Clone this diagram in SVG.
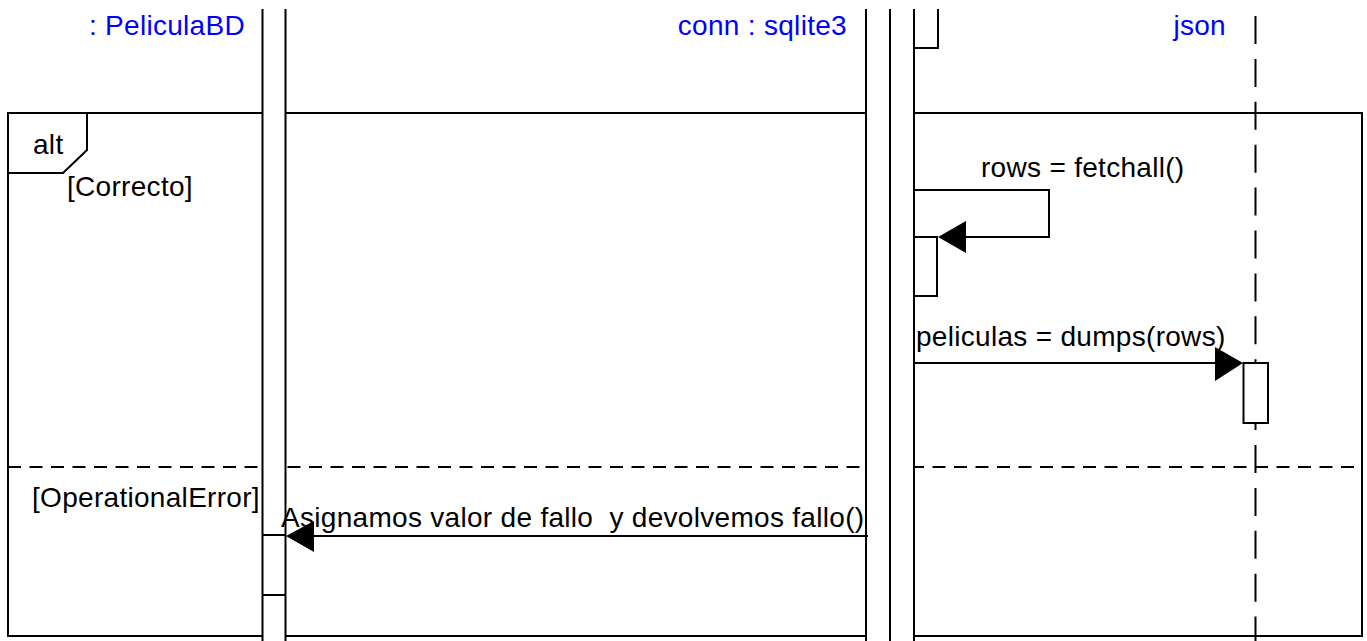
<svg xmlns="http://www.w3.org/2000/svg" width="1367" height="641" viewBox="0 0 1367 641">
  <style>
    .ln { stroke: #000; stroke-width: 2; fill: none; }
    .box { stroke: #000; stroke-width: 2; fill: #fff; }
    .cover { fill: #fff; stroke: none; }
    .t { font-family: "Liberation Sans", Arial, sans-serif; font-size: 28px; letter-spacing: 0.3px; fill: #000; white-space: pre; }
    .name { fill: #0000ff; text-anchor: end; }
    .head { fill: #000; stroke: none; }
  </style>
  <rect width="1367" height="641" fill="#fff"/>

  <g id="frame-alt">
    <rect class="box" x="8" y="113" width="1354" height="523"/>
    <polygon class="ln" points="8,113 87,113 87,150 63,173 8,173"/>
    <line class="ln" x1="8" y1="467" x2="1362" y2="467" stroke-dasharray="13 8.5"/>
    <text class="t" x="33" y="154">alt</text>
    <text class="t" x="67" y="196">[Correcto]</text>
    <text class="t" x="32" y="507">[OperationalError]</text>
  </g>

  <g id="lifeline-peliculabd">
    <text class="t name" x="245" y="35">: PeliculaBD</text>
    <rect class="cover" x="262" y="9" width="23.5" height="632"/>
    <line class="ln" x1="262.5" y1="9" x2="262.5" y2="641"/>
    <line class="ln" x1="285.5" y1="9" x2="285.5" y2="641"/>
    <line class="ln" x1="262.5" y1="535" x2="285.5" y2="535"/>
    <line class="ln" x1="262.5" y1="595" x2="285.5" y2="595"/>
  </g>

  <g id="lifeline-conn">
    <text class="t name" x="847" y="35">conn : sqlite3</text>
    <rect class="cover" x="866" y="9" width="48" height="632"/>
    <line class="ln" x1="866" y1="9" x2="866" y2="641"/>
    <line class="ln" x1="890" y1="9" x2="890" y2="641"/>
    <line class="ln" x1="914" y1="9" x2="914" y2="641"/>
    <polyline class="ln" points="914,48 938,48 938,9"/>
    <rect class="box" x="914" y="237" width="23" height="59"/>
  </g>

  <g id="lifeline-json">
    <text class="t name" x="1226" y="35">json</text>
    <line class="ln" x1="1255.5" y1="16" x2="1255.5" y2="641" stroke-dasharray="28 14.9"/>
    <rect class="box" x="1243.5" y="363" width="24.5" height="60"/>
  </g>

  <g id="connectors">
    <g id="msg-fetchall">
      <polyline class="ln" points="914,190 1049,190 1049,237 962,237"/>
      <polygon class="head" points="938,237 966,221 966,253"/>
      <text class="t" x="981" y="177">rows = fetchall()</text>
    </g>
    <g id="msg-dumps">
      <line class="ln" x1="914" y1="363" x2="1220" y2="363"/>
      <polygon class="head" points="1243,363 1215,347 1215,381"/>
      <text class="t" x="916" y="346">peliculas = dumps(rows)</text>
    </g>
    <g id="msg-fallo">
      <line class="ln" x1="868" y1="536" x2="308" y2="536"/>
      <polygon class="head" points="286,536 314,521 314,552"/>
      <text class="t" x="281" y="527">Asignamos valor de fallo  y devolvemos fallo()</text>
    </g>
  </g>
</svg>
